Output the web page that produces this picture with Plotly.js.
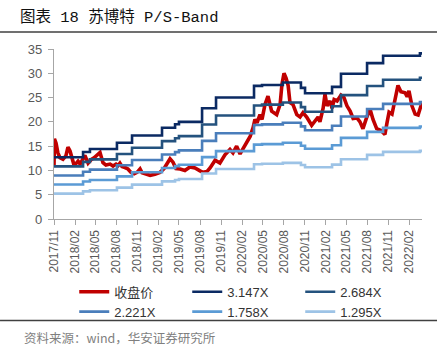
<!DOCTYPE html>
<html>
<head>
<meta charset="utf-8">
<script src="https://cdn.plot.ly/plotly-3.0.1.min.js"></script>
<style>
html,body{margin:0;padding:0;background:#fff;}
#chart{width:445px;height:357px;}
</style>
</head>
<body>
<div id="chart"></div>
<script>
// closing price (收盘价)
const priceDates = [
"2017-11-01","2017-11-03","2017-11-10","2017-11-18","2017-11-27","2017-12-10","2017-12-23",
"2018-01-01","2018-01-10","2018-01-19","2018-01-27","2018-02-05","2018-02-14","2018-02-23",
"2018-03-03","2018-03-16","2018-03-30","2018-04-12","2018-04-25","2018-05-08","2018-05-21",
"2018-06-03","2018-06-16","2018-07-04","2018-07-17","2018-07-30","2018-08-08","2018-08-16",
"2018-08-25","2018-09-07","2018-09-20","2018-10-03","2018-10-17","2018-10-30","2018-11-12",
"2018-11-21","2018-12-08","2018-12-26","2019-01-16","2019-02-07","2019-02-25","2019-03-10",
"2019-03-23","2019-04-05","2019-04-18","2019-05-06","2019-05-27","2019-06-18","2019-07-10",
"2019-08-01","2019-08-14","2019-09-01","2019-09-14","2019-10-06","2019-10-27","2019-11-18",
"2019-12-10","2019-12-23","2020-01-08","2020-01-23","2020-02-14","2020-03-07","2020-03-20",
"2020-03-28","2020-04-06","2020-04-19","2020-04-28","2020-05-11","2020-05-24","2020-06-09",
"2020-07-01","2020-07-16","2020-07-24","2020-08-02","2020-08-11","2020-08-20","2020-08-28",
"2020-09-10","2020-09-27","2020-10-11","2020-10-24","2020-11-09","2020-12-01","2020-12-16",
"2020-12-29","2021-01-06","2021-01-20","2021-01-28","2021-02-06","2021-02-19","2021-02-28",
"2021-03-09","2021-03-22","2021-04-08","2021-04-21","2021-05-04","2021-05-18","2021-05-31",
"2021-06-17","2021-06-30","2021-07-13","2021-07-30","2021-08-13","2021-08-26","2021-09-11",
"2021-09-30","2021-10-17","2021-10-26","2021-11-04","2021-11-17","2021-11-30","2021-12-13",
"2021-12-26","2022-01-13","2022-01-22","2022-01-30","2022-02-12","2022-02-26","2022-03-11",
"2022-03-19","2022-03-28"
];
const priceValues = [
10.8,16.5,15.6,13.6,12.6,12.3,13.0,
14.8,14.0,12.4,11.2,11.4,11.9,11.3,
12.0,13.1,11.5,12.2,12.6,13.2,13.7,
11.6,11.1,11.3,10.9,11.3,11.0,11.5,
10.8,10.6,10.3,9.6,9.3,9.6,10.3,
9.5,9.2,9.0,9.2,9.6,10.4,11.4,
12.4,11.7,10.4,10.3,10.0,10.7,10.5,
9.9,9.6,9.8,10.5,12.1,11.5,13.2,
14.3,13.6,15.0,13.4,15.3,17.0,18.8,
20.5,19.8,21.5,20.5,23.6,25.3,22.2,
21.5,23.6,27.7,30.0,29.0,27.5,24.0,
23.6,21.5,21.0,21.9,21.0,19.3,20.3,
21.0,20.0,22.8,25.7,23.3,24.3,22.8,
24.6,24.3,25.5,25.0,23.3,22.2,20.7,
20.8,20.0,18.6,21.0,22.6,20.5,18.6,
18.2,17.4,19.8,22.0,21.6,24.5,27.5,
26.2,26.0,25.2,26.4,23.3,21.6,21.4,
23.0,24.0
];

// P/S band step dates and values
const bandDates = [
"2017-11-01","2018-03-08","2018-04-07","2018-08-03","2018-10-08","2019-02-16","2019-04-14",
"2019-05-01","2019-08-10","2019-10-10","2020-03-24","2020-04-28","2020-07-28","2020-10-15",
"2020-11-02","2021-02-28","2021-04-08","2021-07-31","2021-10-09","2022-03-19","2022-03-28"
];
const band3147 = [12.70,13.80,14.40,15.70,17.20,18.80,19.50,20.00,22.80,25.00,27.40,27.60,28.10,27.00,25.90,27.20,29.90,32.10,33.60,34.10,34.10];
const band2684 = [10.83,11.77,12.28,13.39,14.67,16.03,16.63,17.06,19.45,21.32,23.37,23.54,23.97,23.03,22.09,23.20,25.50,27.38,28.66,29.08,29.08];
const band2221 = [8.96,9.74,10.16,11.08,12.14,13.27,13.76,14.12,16.09,17.65,19.34,19.48,19.83,19.06,18.28,19.20,21.10,22.66,23.71,24.07,24.07];
const band1758 = [7.09,7.71,8.04,8.77,9.61,10.50,10.89,11.17,12.74,13.97,15.31,15.42,15.70,15.08,14.47,15.19,16.70,17.93,18.77,19.05,19.05];
const band1295 = [5.23,5.68,5.93,6.46,7.08,7.74,8.02,8.23,9.38,10.29,11.28,11.36,11.56,11.11,10.66,11.19,12.30,13.21,13.83,14.03,14.03];

const seriesNames = ["收盘价","3.147X","2.684X","2.221X","1.758X","1.295X"];
const seriesColors = ["#C00000","#0B2A63","#24527E","#4A7EBB","#5B9BD5","#9DC3E6"];

const tickDates = ["2017-11-01","2018-02-01","2018-05-01","2018-08-01","2018-11-01","2019-02-01",
"2019-05-01","2019-08-01","2019-11-01","2020-02-01","2020-05-01","2020-08-01","2020-11-01",
"2021-02-01","2021-05-01","2021-08-01","2021-11-01","2022-02-01"];
const tickLabels = ["2017/11","2018/02","2018/05","2018/08","2018/11","2019/02","2019/05","2019/08",
"2019/11","2020/02","2020/05","2020/08","2020/11","2021/02","2021/05","2021/08","2021/11","2022/02"];

const bands = [band3147, band2684, band2221, band1758, band1295];

const traces = [{
  x: priceDates, y: priceValues, type: "scatter", mode: "lines",
  name: seriesNames[0], line: {color: seriesColors[0], width: 3.6}
}];
bands.forEach((b, i) => {
  traces.push({
    x: bandDates, y: b, type: "scatter", mode: "lines",
    name: seriesNames[i + 1],
    line: {color: seriesColors[i + 1], width: 2.6, shape: "hv"}
  });
});

const layout = {
  width: 445, height: 357,
  margin: {l: 54, r: 23, t: 49, b: 138},
  paper_bgcolor: "#ffffff", plot_bgcolor: "#ffffff",
  font: {family: "Liberation Sans, Noto Sans CJK SC, sans-serif", color: "#404040"},
  title: {
    text: "图表 18 苏博特 P/S-Band",
    font: {family: "Liberation Mono, Noto Sans CJK SC, monospace", size: 15.5, color: "#111111"},
    xref: "container", yref: "container", x: 0.045, xanchor: "left", y: 0.953, yanchor: "middle"
  },
  xaxis: {
    type: "date",
    range: ["2017-11-01", "2022-03-28"],
    tickmode: "array", tickvals: tickDates, ticktext: tickLabels,
    tickangle: -90,
    tickfont: {size: 12, color: "#595959"},
    ticks: "outside", ticklen: 5, tickcolor: "#A6A6A6",
    showline: true, linecolor: "#A6A6A6", linewidth: 1.2,
    showgrid: false, zeroline: false, fixedrange: true
  },
  yaxis: {
    range: [0, 35], dtick: 5, tick0: 0,
    tickfont: {size: 13, color: "#595959"},
    ticks: "outside", ticklen: 5, tickcolor: "#A6A6A6",
    ticklabelstandoff: 3,
    showline: true, linecolor: "#A6A6A6", linewidth: 1.2,
    showgrid: false, zeroline: false, fixedrange: true
  },
  legend: {
    orientation: "h",
    x: 0.055, xanchor: "left", y: -0.34, yanchor: "top",
    entrywidth: 68, entrywidthmode: "pixels",
    itemwidth: 30,
    font: {size: 13, color: "#333333", family: "Liberation Sans, Noto Sans CJK SC, sans-serif"},
    bgcolor: "rgba(0,0,0,0)", tracegroupgap: 0
  },
  shapes: [
    {type: "line", xref: "paper", yref: "paper", x0: -0.1467, x1: 1.0408, y0: 1.1006, y1: 1.1006,
     line: {color: "#404040", width: 1.5}},
    {type: "line", xref: "paper", yref: "paper", x0: -0.1467, x1: 1.0408, y0: -0.5976, y1: -0.5976,
     line: {color: "#404040", width: 1.5}}
  ],
  annotations: [
    {text: "资料来源：wind，华安证券研究所", xref: "paper", yref: "paper",
     x: -0.087, xanchor: "left", y: -0.698, yanchor: "middle", showarrow: false,
     font: {size: 12.5, color: "#7F7F7F", family: "Noto Sans CJK SC, Liberation Sans, sans-serif"}}
  ],
  showlegend: true
};

Plotly.newPlot("chart", traces, layout, {displayModeBar: false, staticPlot: true});
</script>
</body>
</html>
